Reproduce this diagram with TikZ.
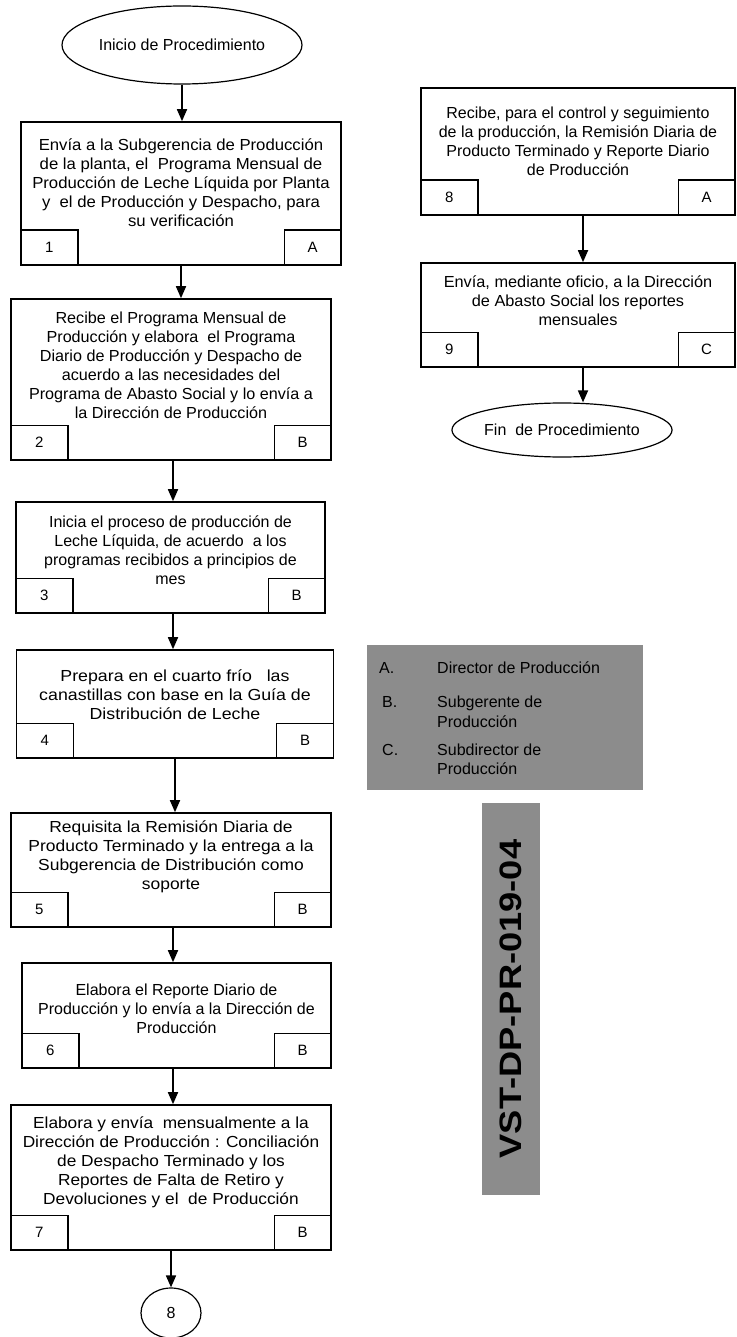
\documentclass[tikz,border=0pt]{standalone}
\usepackage{fontspec}
\setmainfont{Liberation Sans}
\usetikzlibrary{shapes.geometric,arrows.meta}

% strut that fixes the top of the first text line
\newcommand{\topstrut}{\rule{0pt}{15pt}}

\tikzset{
  stepbox/.style={draw, line width=1.6pt, inner sep=0pt},
  stepscale/.style={},
  steptext/.style={align=center, inner sep=0pt, font=\fontsize{16}{19}\selectfont, stepscale},
  tagbox/.style={draw, line width=1.3pt, minimum width=57pt, minimum height=35pt,
                 inner sep=0pt, font=\fontsize{15}{18}\selectfont},
  flowarrow/.style={line width=1.7pt, -{Triangle[length=12pt,width=10pt]}},
  terminal/.style={ellipse, draw, line width=1.2pt, inner sep=0pt,
                   font=\fontsize{16}{19}\selectfont},
  shaded/.style={fill=black!45, inner sep=0pt},
  legtext/.style={inner sep=0pt, font=\fontsize{16}{19}\selectfont}
}

% #1 name, #2 centre x, #3 centre y, #4 width, #5 height,
% #6 top of text, #7 text, #8 step number, #9 responsible
\newcommand{\procstep}[9]{%
  \node[stepbox, minimum width=#4, minimum height=#5] (#1) at (#2,#3) {};
  \node[steptext, anchor=north] (#1t) at (#2,#6) {\topstrut#7};
  \node[tagbox, anchor=south west] (#1n) at (#1.south west) {#8};
  \node[tagbox, anchor=south east] (#1r) at (#1.south east) {#9};
}
% horizontal width of the text set in the next step box
\newcommand{\textstretch}[1]{\tikzset{stepscale/.style={xscale=#1}}}

\begin{document}
\begin{tikzpicture}[x=1pt, y=-1pt]
\useasboundingbox (0,0) rectangle (736,1337);

% ---- left column ----
\node[terminal, minimum width=240pt, minimum height=78pt] (start) at (182,45) {Inicio de Procedimiento};

\textstretch{1.045}
\procstep{b1}{181}{193.5}{320}{143}{135}
  {Envía a la Subgerencia de Producción\\de la planta, el\ \ Programa Mensual de\\Producción de Leche Líquida por Planta\\y\ \ el de Producción y Despacho, para\\su verificación}{1}{A}

\textstretch{1.01}
\procstep{b2}{171}{379.5}{320}{161}{308}
  {Recibe el Programa Mensual de\\Producción y elabora\ \ el Programa\\Diario de Producción y Despacho de\\acuerdo a las necesidades del\\Programa de Abasto Social y lo envía a\\la Dirección de Producción}{2}{B}

\textstretch{1.0}
\procstep{b3}{170.5}{557.5}{309}{111}{512}
  {Inicia el proceso de producción de\\Leche Líquida, de acuerdo\ \ a los\\programas recibidos a principios de\\mes}{3}{B}

\textstretch{1.11}
\procstep{b4}{175}{704}{317}{108}{666}
  {Prepara en el cuarto frío\ \ \ las\\canastillas con base en la Guía de\\Distribución de Leche}{4}{B}

\textstretch{1.09}
\procstep{b5}{171}{870}{320}{114}{817}
  {Requisita la Remisión Diaria de\\Producto Terminado y la entrega a la\\Subgerencia de Distribución como\\soporte}{5}{B}

\textstretch{1.0}
\procstep{b6}{176.5}{1015.5}{309}{105}{980}
  {Elabora el Reporte Diario de\\Producción y lo envía a la Dirección de\\Producción}{6}{B}

\textstretch{1.08}
\procstep{b7}{171}{1177.5}{320}{145}{1113}
  {Elabora y envía\ \ mensualmente a la\\Dirección de Producción : Conciliación\\de Despacho Terminado y los\\Reportes de Falta de Retiro y\\Devoluciones y el\ \ de Producción}{7}{B}

\node[terminal, minimum width=60pt, minimum height=50pt] (c8) at (171,1313) {8};

\draw[flowarrow] (start.south) -- (start.south |- b1.north);
\draw[flowarrow] (b1.south) -- (b1.south |- b2.north);
\draw[flowarrow] ([xshift=2pt]b2.south) -- ([xshift=2pt]b2.south |- b3.north);
\draw[flowarrow] ([xshift=2.5pt]b3.south) -- ([xshift=2.5pt]b3.south |- b4.north);
\draw[flowarrow] (b4.south) -- (b4.south |- b5.north);
\draw[flowarrow] ([xshift=2pt]b5.south) -- ([xshift=2pt]b5.south |- b6.north);
\draw[flowarrow] ([xshift=2pt]b7.north |- b6.south) -- ([xshift=2pt]b7.north);
\draw[flowarrow] (b7.south) -- (c8.north);

% ---- right column ----
\textstretch{1.0}
\procstep{b8}{578}{151.5}{314}{127}{103}
  {Recibe, para el control y seguimiento\\de la producción, la Remisión Diaria de\\Producto Terminado y Reporte Diario\\de Producción}{8}{A}

\textstretch{1.02}
\procstep{b9}{578}{315}{314}{104}{272}
  {Envía, mediante oficio, a la Dirección\\de Abasto Social los reportes\\mensuales}{9}{C}

\node[terminal, minimum width=190pt, minimum height=54pt] (fin) at (562,430) {Fin\ \ de Procedimiento};

\draw[flowarrow] ([xshift=5pt]b8.south) -- ([xshift=5pt]b9.north);
\draw[flowarrow] ([xshift=5pt]b9.south) -- ([xshift=5pt]b9.south |- fin.north);

% ---- legend of responsibles ----
\node[shaded, minimum width=276pt, minimum height=145pt, anchor=north west] (legend) at (367,645) {};
\node[legtext, anchor=base west] (la) at (379,673) {A.};
\node[legtext, anchor=base west] (lat) at (437,673) {Director de Producción};
\node[legtext, anchor=base west] (lb) at (382,707) {B.};
\node[legtext, anchor=base west] (lbt) at (437,707) {Subgerente de};
\node[legtext, anchor=base west] (lbu) at (437,727) {Producción};
\node[legtext, anchor=base west] (lc) at (382,755) {C.};
\node[legtext, anchor=base west] (lct) at (437,755) {Subdirector de};
\node[legtext, anchor=base west] (lcu) at (437,774) {Producción};

% ---- document code ----
\node[shaded, rotate=90, minimum width=392pt, minimum height=58pt] (code) at (511,999)
  {\fontsize{31}{31}\selectfont\bfseries\scalebox{1.17}[1]{VST-DP-PR-019-04}};
\end{tikzpicture}
\end{document}
